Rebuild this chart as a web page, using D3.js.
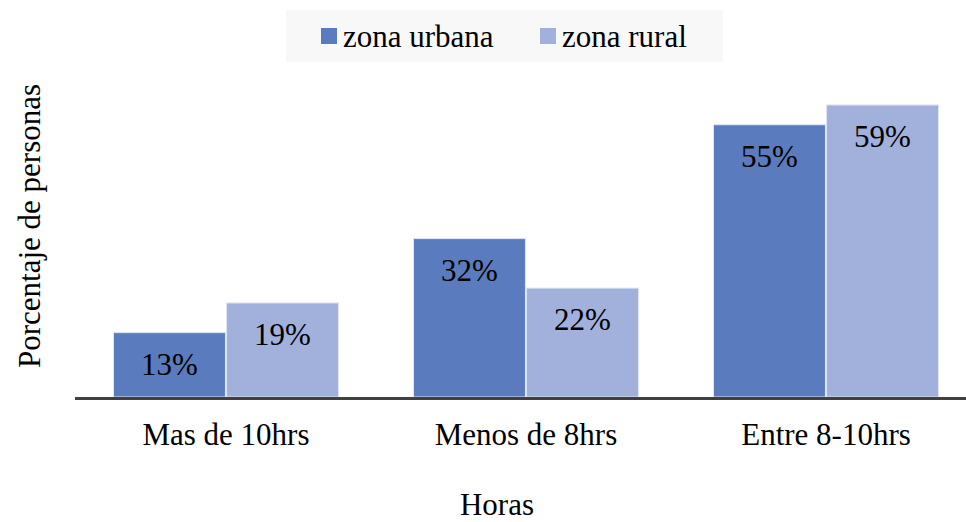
<!DOCTYPE html>
<html>
<head>
<meta charset="UTF-8">
<script src="https://d3js.org/d3.v7.min.js"></script>
</head>
<body style="margin:0">
<script>
// datos
var categorias = ["Mas de 10hrs", "Menos de 8hrs", "Entre 8-10hrs"];
var series = ["zona urbana", "zona rural"];
var urbana = [13, 32, 55];
var rural = [19, 22, 59];
var colores = ["#5a7bbd", "#a2b1dc"];

var width = 966, height = 522;
var base = 397;
var tam = 31;
var fuente = "'Liberation Serif', Tinos, 'Times New Roman', Times, 'DejaVu Serif', 'Noto Serif', serif";

// todos los textos en letra serif
function texto(sel) {
  sel.attr("font-size", tam)
    .attr("fill", "#000")
    .style("font-family", fuente);
}

var svg = d3.select("body").append("svg")
  .attr("width", width)
  .attr("height", height);

var x = d3.scaleBand()
  .domain(categorias)
  .range([76, 976])
  .paddingInner(0.25)
  .paddingOuter(0.125);

var xs = d3.scaleBand()
  .domain(series)
  .range([0, x.bandwidth()])
  .paddingInner(0.01);

var y = d3.scaleLinear()
  .domain([0, 60])
  .range([base, 100]);

var datos = categorias.map(function(c, i) {
  return { cat: c, valores: [urbana[i], rural[i]] };
});

var grupos = svg.selectAll(".grupo")
  .data(datos)
  .enter().append("g")
  .attr("class", "grupo")
  .attr("transform", function(d) { return "translate(" + x(d.cat) + ",0)"; });

var barras = grupos.selectAll("g")
  .data(function(d) {
    return d.valores.map(function(v, j) { return { serie: series[j], v: v, j: j }; });
  })
  .enter().append("g");

barras.append("rect")
  .attr("x", function(d) { return xs(d.serie); })
  .attr("y", function(d) { return y(d.v); })
  .attr("width", xs.bandwidth())
  .attr("height", function(d) { return base - y(d.v); })
  .attr("fill", function(d) { return colores[d.j]; })
  .attr("stroke", "#dfe5f2")
  .attr("stroke-width", 1);

barras.append("text")
  .attr("x", function(d) { return xs(d.serie) + xs.bandwidth() / 2; })
  .attr("y", function(d) { return y(d.v) + 42; })
  .attr("text-anchor", "middle")
  .call(texto)
  .text(function(d) { return d.v + "%"; });

// eje x
svg.append("line")
  .attr("x1", 75).attr("x2", width)
  .attr("y1", base + 1.5).attr("y2", base + 1.5)
  .attr("stroke", "#404040")
  .attr("stroke-width", 3);

svg.selectAll(".cat")
  .data(categorias)
  .enter().append("text")
  .attr("class", "cat")
  .attr("x", function(d) { return x(d) + x.bandwidth() / 2; })
  .attr("y", 445)
  .attr("text-anchor", "middle")
  .call(texto)
  .text(function(d) { return d; });

// titulos
svg.append("text")
  .attr("x", 497)
  .attr("y", 515)
  .attr("text-anchor", "middle")
  .call(texto)
  .text("Horas");

svg.append("text")
  .attr("transform", "translate(40,226) rotate(-90)")
  .attr("text-anchor", "middle")
  .call(texto)
  .text("Porcentaje de personas");

// leyenda
var leyenda = svg.append("g");
leyenda.append("rect")
  .attr("x", 286).attr("y", 10)
  .attr("width", 437).attr("height", 52)
  .attr("fill", "#f8f8f8");

var lx = [321, 540];
series.forEach(function(s, i) {
  leyenda.append("rect")
    .attr("x", lx[i]).attr("y", 28)
    .attr("width", 16).attr("height", 16)
    .attr("fill", colores[i]);
  leyenda.append("text")
    .attr("x", lx[i] + 22)
    .attr("y", 47)
    .call(texto)
    .text(s);
});
</script>
</body>
</html>
